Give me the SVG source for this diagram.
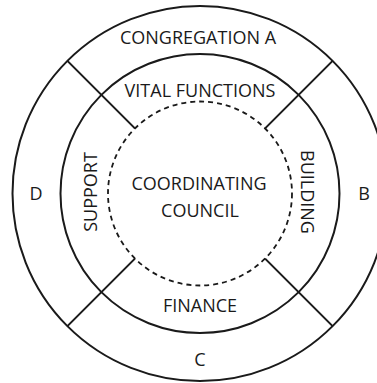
<svg xmlns="http://www.w3.org/2000/svg" width="377" height="383" viewBox="0 0 377 383">
<style>
.ring{fill:none;stroke:#1a1a1a;stroke-width:2}
.dash{fill:none;stroke:#1a1a1a;stroke-width:1.8;stroke-dasharray:5 4}
.conn{stroke:#1a1a1a;stroke-width:2;fill:none}
text{font-family:"Open Sans","Noto Sans",sans-serif;font-size:18px;fill:#1a1a1a;text-anchor:middle}
</style>
<rect width="377" height="383" fill="#ffffff"/>
<g id="outer-ring"><circle class="ring" cx="200" cy="193.5" r="187.5"/></g>
<g id="middle-ring"><circle class="ring" cx="200" cy="193.5" r="139.5"/></g>
<g id="coordinating-council">
<circle class="dash" cx="200" cy="193.5" r="92"/>
<text x="199" y="190">COORDINATING</text>
<text x="200" y="217">COUNCIL</text>
</g>
<g id="connectors">
<line class="conn" x1="134.9" y1="128.4" x2="67.4" y2="60.9"/>
<line class="conn" x1="265.1" y1="128.4" x2="332.6" y2="60.9"/>
<line class="conn" x1="134.9" y1="258.6" x2="67.4" y2="326.1"/>
<line class="conn" x1="265.1" y1="258.6" x2="332.6" y2="326.1"/>
</g>
<g id="congregation-a"><text x="198" y="44">CONGREGATION A</text></g>
<g id="vital-functions"><text x="200" y="96.5">VITAL FUNCTIONS</text></g>
<g id="support"><text transform="translate(97,192) rotate(-90)">SUPPORT</text></g>
<g id="building"><text transform="translate(301,192) rotate(90)">BUILDING</text></g>
<g id="finance"><text x="200" y="311.5">FINANCE</text></g>
<g id="b"><text x="364" y="200">B</text></g>
<g id="c"><text x="200" y="366">C</text></g>
<g id="d"><text x="36" y="200">D</text></g>
</svg>
